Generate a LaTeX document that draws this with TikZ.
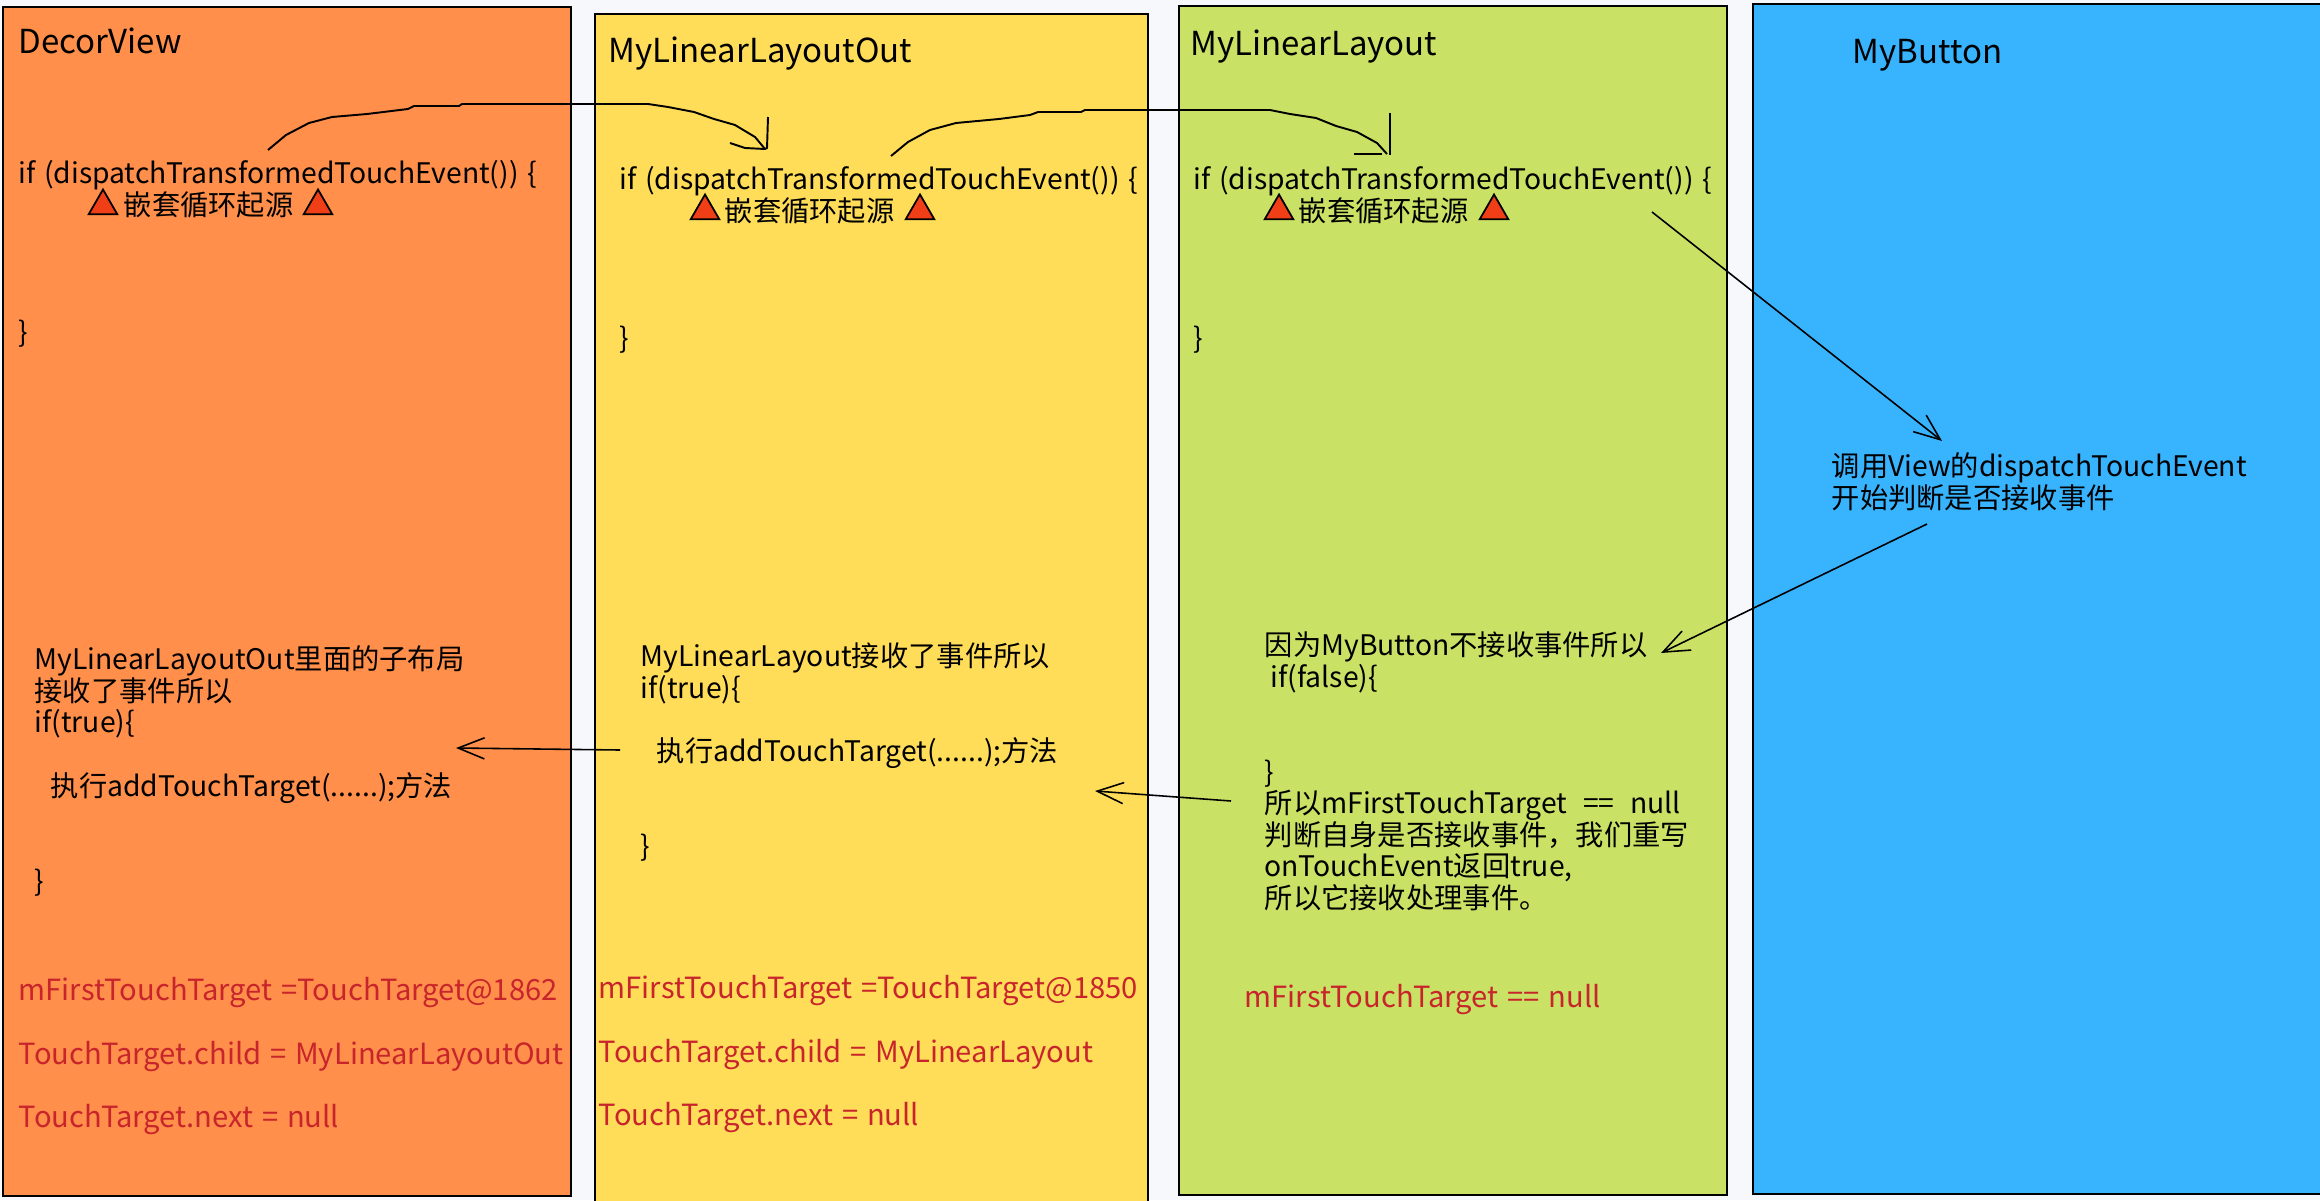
\documentclass[tikz,border=0pt]{standalone}
\usepackage{fontspec}
\setmainfont[WordSpace=1.35]{Noto Sans CJK SC}
\usetikzlibrary{arrows.meta, shapes.geometric}
\definecolor{pagebg}{HTML}{F7F8FC}
\definecolor{decorfill}{HTML}{FF8F4B}
\definecolor{outerfill}{HTML}{FFDD59}
\definecolor{innerfill}{HTML}{C9E266}
\definecolor{buttonfill}{HTML}{38B4FF}
\definecolor{warnfill}{HTML}{F03E17}
\definecolor{fieldred}{HTML}{C8242B}
\tikzset{
  panel/.style={draw=black, line width=0.6pt},
  body/.style={anchor=north west, inner sep=0pt, align=left,
    font=\fontsize{8.05}{9}\selectfont, execute at begin node=\strut},
  title/.style={body, font=\fontsize{9.4}{9}\selectfont},
  field/.style={body, font=\fontsize{8.3}{9}\selectfont, text=fieldred},
  warn/.style={regular polygon, regular polygon sides=3, draw=black, fill=warnfill,
    line width=0.5pt, inner sep=0pt, minimum size=33*0.1mm},
  link/.style={line width=0.45pt, -{Straight Barb[length=7.5pt,width=6pt]}},
  hook/.style={line width=0.55pt, line join=round}
}
\begin{document}
\begin{tikzpicture}[x=0.1mm, y=-0.1mm]
    \useasboundingbox[fill=pagebg] (0,0) rectangle (2320,1200);
    \filldraw[panel, fill=decorfill] (3,7) rectangle (571,1196);
    \filldraw[panel, fill=outerfill] (595,14) rectangle (1148,1210);
    \filldraw[panel, fill=innerfill] (1179,6) rectangle (1727,1195);
    \filldraw[panel, fill=buttonfill] (1753,4) rectangle (2330,1194);

    \node[title] (decorname) at (18,27) {DecorView};
    \node[title] (outername) at (608,36) {MyLinearLayoutOut};
    \node[title] (innername) at (1190,29) {MyLinearLayout};
    \node[title] (buttonname) at (1852,39) {MyButton};

    \node[body] (decorif) at (18,160) {if (dispatchTransformedTouchEvent()) \{\\
      \hspace*{29.9pt}嵌套循环起源\\~\\~\\~\\\}};
    \node[body] (outerif) at (619,166) {if (dispatchTransformedTouchEvent()) \{\\
      \hspace*{29.9pt}嵌套循环起源\\~\\~\\~\\\}};
    \node[body] (innerif) at (1193,166) {if (dispatchTransformedTouchEvent()) \{\\
      \hspace*{29.9pt}嵌套循环起源\\~\\~\\~\\\}};

    \node[warn] (decorwarna) at (103,206) {};
    \node[warn] (decorwarnb) at (318,206) {};
    \node[warn] (outerwarna) at (705,211) {};
    \node[warn] (outerwarnb) at (920,211) {};
    \node[warn] (innerwarna) at (1279,211) {};
    \node[warn] (innerwarnb) at (1494,211) {};

    \node[body] (buttontext) at (1831,452) {调用View的dispatchTouchEvent\\开始判断是否接收事件};

    \node[body] (decortext) at (34,645) {MyLinearLayoutOut里面的子布局\\接收了事件所以\\if(true)\{\\~\\
      \hspace*{4.6pt}执行addTouchTarget(......);方法\\~\\~\\\}};
    \node[body] (outertext) at (640,642) {MyLinearLayout接收了事件所以\\if(true)\{\\~\\
      \hspace*{4.6pt}执行addTouchTarget(......);方法\\~\\~\\\}};
    \node[body] (innertext) at (1264,631) {因为MyButton不接收事件所以\\
      \hspace*{1.7pt}if(false)\{\\~\\~\\\}\\所以mFirstTouchTarget\hspace{2pt} == \hspace{2pt}null\\
      判断自身是否接收事件，我们重写\\onTouchEvent返回true,\\所以它接收处理事件。};

    \node[field] (decorfield) at (18,977) {mFirstTouchTarget =TouchTarget@1862\\~\\
      TouchTarget.child = MyLinearLayoutOut\\~\\TouchTarget.next = null};
    \node[field] (outerfield) at (598,975) {mFirstTouchTarget =TouchTarget@1850\\~\\
      TouchTarget.child = MyLinearLayout\\~\\TouchTarget.next = null};
    \node[field] (innerfield) at (1244,984) {mFirstTouchTarget == null};

    % hand drawn hops between the panels
    \coordinate (hopa) at (268,150);
    \coordinate (hopaend) at (765,149);
    \coordinate (hopb) at (891,156);
    \coordinate (hopbend) at (1387,154);
    \draw[hook] (hopa)--(286,135)--(309,123)--(332,117)--(367,114)--(408,109)--(414,106)
      --(459,106)--(462,104)--(648,104)--(668,107)--(694,112)--(714,119)--(735,125)--(755,137)--(hopaend);
    \draw[hook] (768,117)--(767,148)--(hopaend)--(745,148)--(730,143);
    \draw[hook] (hopb)--(908,142)--(930,130)--(956,123)--(999,119)--(1030,115)--(1038,112)
      --(1081,112)--(1085,110)--(1270,110)--(1290,114)--(1316,118)--(1336,126)--(1357,132)--(1377,143)--(hopbend);
    \draw[hook] (1390,113)--(1390,155);
    \draw[hook] (1354,154)--(1382,154);

    \coordinate (callfrom) at (1652,212);
    \coordinate (callto) at (1942,441);
    \coordinate (backfrom) at (1927,524);
    \coordinate (backto) at (1661,653);
    \coordinate (outfrom) at (1231,801);
    \coordinate (outto) at (1095,791);
    \coordinate (decorfrom) at (620,750);
    \coordinate (decorto) at (456,748);
    \draw[link] (callfrom) -- (callto);
    \draw[link] (backfrom) -- (backto);
    \draw[link] (outfrom) -- (outto);
    \draw[link] (decorfrom) -- (decorto);
  \end{tikzpicture}
\end{document}
